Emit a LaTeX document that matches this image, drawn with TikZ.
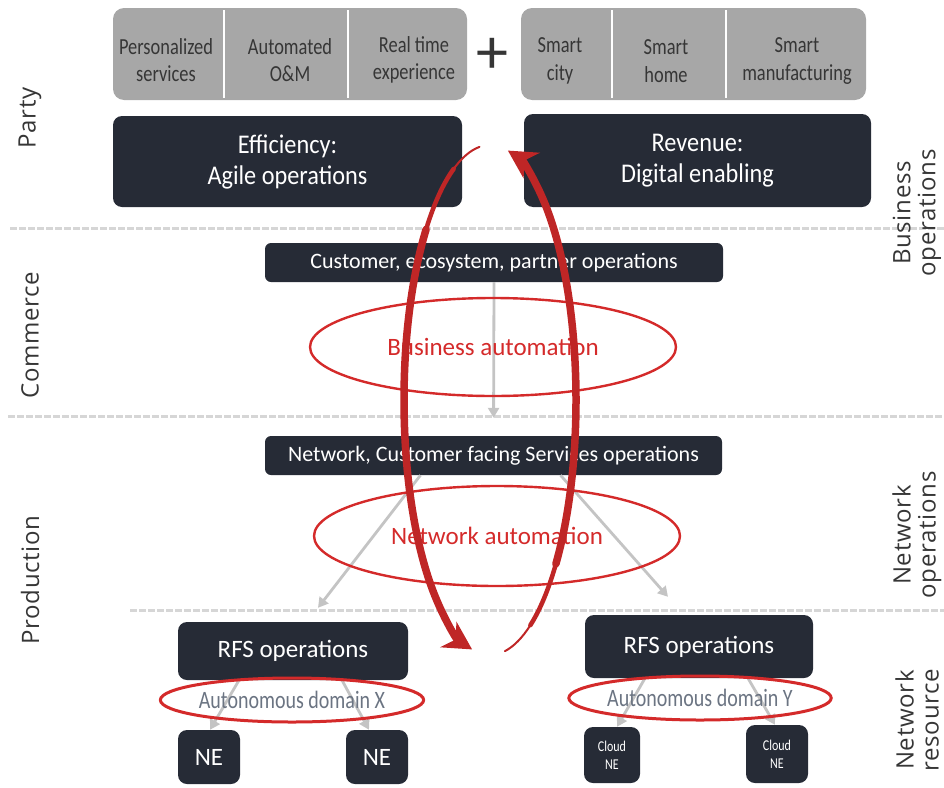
\documentclass[tikz,border=0pt]{standalone}
\usepackage{fontspec}
\setmainfont{Carlito}
\newfontfamily\narrowfont[FakeStretch=0.8]{Carlito}
\newfontfamily\boxfont[FakeStretch=0.9]{Carlito}
\newfontfamily\sidefont[LetterSpace=3]{Open Sans}
\usetikzlibrary{arrows.meta, calc, shapes.geometric}
\definecolor{boxdark}{HTML}{262B36}
\definecolor{boxgray}{HTML}{A7A7A7}
\definecolor{autored}{HTML}{D42A2A}
\definecolor{linkgray}{HTML}{C4C4C4}
\definecolor{labelgray}{HTML}{363636}
\definecolor{domaingray}{HTML}{6B7482}
\newcommand\fs[1]{\fontsize{#1}{\fpeval{1.2*#1}}\selectfont}
\newcommand\loopseg[3]{% options, start angle, end angle
	\draw[#1] ($(490,400)+({86*cos(#2)},{255*sin(#2)})$) arc[start angle=#2, end angle=#3, x radius=86, y radius=255];}
\tikzset{
	darkbox/.style={fill=boxdark, rounded corners=9pt, text=white, align=center, inner sep=0pt},
	graybox/.style={fill=boxgray, rounded corners=11pt, inner sep=0pt},
	cell/.style={text=labelgray, align=center, font=\narrowfont\fs{23}},
	sep/.style={linkgray!70, line width=3pt, dash pattern=on 7pt off 2pt},
	linkarrow/.style={linkgray, line width=2.8pt, -{Triangle[length=10pt,width=11pt]}},
	autoring/.style={ellipse, draw=autored, line width=2.4pt, inner sep=0pt, text=autored, font=\fs{25}},
	domainring/.style={ellipse, draw=autored, line width=3pt, inner sep=0pt, text=domaingray, font=\narrowfont\fs{25}},
	sidelabel/.style={rotate=90, text=labelgray, align=center, font=\sidefont\fontsize{24}{25}\selectfont},
	cycle/.style={autored!90!black, line cap=round}
}

\begin{document}
\begin{tikzpicture}[x=1pt, y=-1pt]
		\useasboundingbox (0,0) rectangle (944,787);
		
		% layer separators
		\draw[sep] (10,228) -- (944,228);
		\draw[sep] (8,416) -- (944,416);
		\draw[sep] (130,610) -- (944,610);
		
		\node[sidelabel] (party) at (30,118) {Party};
		\node[sidelabel] (commerce) at (30,335) {Commerce};
		\node[sidelabel] (production) at (30,580) {Production};
		\node[sidelabel] (bizops) at (917,213) {Business\\operations};
		\node[sidelabel] (netopslabel) at (917,535) {Network\\operations};
		\node[sidelabel] (netres) at (917,720) {Network\\resource};
		
		% party layer
		\node[graybox, minimum width=354pt, minimum height=92pt] (goalsL) at (290,54) {};
		\node[graybox, minimum width=345pt, minimum height=92pt] (goalsR) at (693.5,54) {};
		\draw[white, line width=2pt] (224,10) -- (224,98) (348,10) -- (348,98);
		\draw[white, line width=2pt] (612,10) -- (612,98) (726,10) -- (726,98);
		\node[cell] (personal) at (166,60) {Personalized\\services};
		\node[cell] (automom) at (290,60) {Automated\\O\&M};
		\node[cell] (realtime) at (414,60) {Real time\\experience};
		\node[cell] (city) at (560,61) {Smart\\city};
		\node[cell] (home) at (666,61) {Smart\\home};
		\node[cell] (manuf) at (797,61) {Smart\\manufacturing};
		\node[text=labelgray, font=\fs{64}] (plus) at (492,56) {+};
		
		\node[darkbox, minimum width=349pt, minimum height=91pt, font=\boxfont\fontsize{27}{31}\selectfont] (efficiency) at (287.5,161.5) {Efficiency:\\Agile operations};
		\node[darkbox, minimum width=347pt, minimum height=93pt, font=\boxfont\fontsize{27}{31}\selectfont] (revenue) at (697.5,160.5) {Revenue:\\Digital enabling};
		
		% commerce and production
		\node[darkbox, minimum width=458pt, minimum height=39pt, rounded corners=6pt, font=\fs{22}] (custops) at (494,262.5) {Customer, ecosystem, partner operations};
		\node[darkbox, minimum width=457pt, minimum height=39pt, rounded corners=6pt, font=\fs{22}] (netops) at (493.5,455.5) {Network, Customer facing Services operations};
		
		\node[darkbox, minimum width=230pt, minimum height=58pt, font=\fs{25}] (rfsX) at (293,651) {RFS operations};
		\node[darkbox, minimum width=228pt, minimum height=63pt, font=\fs{25}] (rfsY) at (699,646.5) {RFS operations};
		\node[darkbox, minimum width=62pt, minimum height=54pt, font=\fs{25}] (neA) at (209,757) {NE};
		\node[darkbox, minimum width=62pt, minimum height=54pt, font=\fs{25}] (neB) at (377,757) {NE};
		\node[darkbox, minimum width=56pt, minimum height=56pt, font=\narrowfont\fs{15}] (cloudA) at (612,755) {Cloud\\NE};
		\node[darkbox, minimum width=62pt, minimum height=58pt, font=\narrowfont\fs{15}] (cloudB) at (777,754) {Cloud\\NE};
		
		\draw[linkarrow] (custops.south) -- (netops.north) [shorten >=18pt];
		\draw[linkarrow] ([xshift=-73pt]netops.south) -- ([xshift=25pt, yshift=14pt]rfsX.north);
		\draw[linkarrow] ([xshift=67pt]netops.south) -- ([xshift=-31pt, yshift=18pt]rfsY.north);
		\draw[linkarrow] ([xshift=-54pt]rfsX.south) -- ([xshift=1pt]neA.north);
		\draw[linkarrow] ([xshift=49pt]rfsX.south) -- ([xshift=-8pt]neB.north);
		\draw[linkarrow] ([xshift=-54pt]rfsY.south) -- ([xshift=5pt]cloudA.north);
		\draw[linkarrow] ([xshift=49pt]rfsY.south) -- ([xshift=-2pt]cloudB.north);
		
		\node[autoring, minimum width=366pt, minimum height=98pt] (bizauto) at (493,347) {Business automation};
		\node[autoring, minimum width=366pt, minimum height=100pt] (netauto) at (497,536) {Network automation};
		\node[domainring, minimum width=244pt, minimum height=44pt] (domX) at (292,700) {Autonomous domain X};
		\node[domainring, minimum width=250pt, minimum height=44pt] (domY) at (700,698) {Autonomous domain Y};
		
		% closed loop between party and production
		\loopseg{cycle, line width=2pt}{263}{245}
		\loopseg{cycle, line width=4.5pt}{245}{222}
		\loopseg{cycle, line width=7.5pt, -{Stealth[length=28pt,width=30pt]}}{222}{102}
		\loopseg{cycle, line width=2pt}{80}{62}
		\loopseg{cycle, line width=4.5pt}{62}{40}
		\loopseg{cycle, line width=7.5pt, -{Stealth[length=28pt,width=30pt]}}{40}{-78}
\end{tikzpicture}
\end{document}
